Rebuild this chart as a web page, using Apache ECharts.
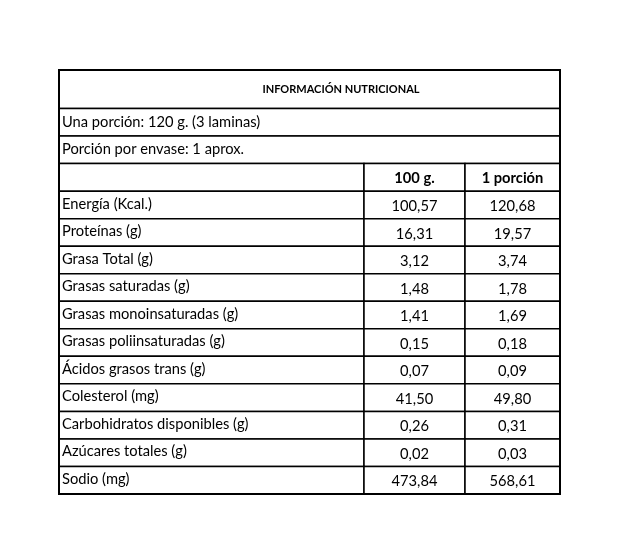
<!DOCTYPE html>
<html>
<head>
<meta charset="utf-8">
<script src="https://cdn.jsdelivr.net/npm/echarts@6/dist/echarts.min.js"></script>
<style>html,body{margin:0;padding:0;background:#fff;}#c{width:633px;height:549px;}</style>
</head>
<body>
<div id="c"></div>
<script>
const title = 'INFORMACIÓN NUTRICIONAL';
const servingInfo = ['Una porción: 120 g. (3 laminas)', 'Porción por envase: 1 aprox.'];
const columnHeaders = ['', '100 g.', '1 porción'];
const nutrients = ['Energía (Kcal.)', 'Proteínas (g)', 'Grasa Total (g)', 'Grasas saturadas (g)',
  'Grasas monoinsaturadas (g)', 'Grasas poliinsaturadas (g)', 'Ácidos grasos trans (g)',
  'Colesterol (mg)', 'Carbohidratos disponibles (g)', 'Azúcares totales (g)', 'Sodio (mg)'];
const per100g = [100.57, 16.31, 3.12, 1.48, 1.41, 0.15, 0.07, 41.50, 0.26, 0.02, 473.84];
const perPortion = [120.68, 19.57, 3.74, 1.78, 1.69, 0.18, 0.09, 49.80, 0.31, 0.03, 568.61];

// ---- layout (axis units) ----
const colEdges = [0, 305, 406, 501];
const titleRowH = 1.4;
const fmt = v => v.toFixed(2).replace('.', ',');
const FONT = 'Lato, "Open Sans", sans-serif';
const fs = 14.7;

const cells = [];
let y = 0;
function addRow(h, items) {
  items.forEach(it => cells.push(Object.assign({ y0: y, y1: y + h }, it)));
  y += h;
}
addRow(titleRowH, [{ x0: colEdges[0], x1: colEdges[3], text: title, bold: true, size: 11, align: 'center', tx: 282 }]);
servingInfo.forEach(s => addRow(1, [{ x0: colEdges[0], x1: colEdges[3], text: s, align: 'left', tx: 3, dy: -0.5 }]));
addRow(1, columnHeaders.map((h, i) => ({ x0: colEdges[i], x1: colEdges[i + 1], text: h, bold: true, align: 'center', dy: 0.5 })));
nutrients.forEach((n, i) => addRow(1, [
  { x0: colEdges[0], x1: colEdges[1], text: n, align: 'left', tx: 3, dy: -1 },
  { x0: colEdges[1], x1: colEdges[2], text: fmt(per100g[i]), align: 'center', dy: 1.5 },
  { x0: colEdges[2], x1: colEdges[3], text: fmt(perPortion[i]), align: 'center', dy: 1.5 }
]));
const totalH = y;

const data = cells.map(c => [c.x0, c.x1, c.y0, c.y1]);
data.push([colEdges[0], colEdges[3], 0, totalH]);

const chart = echarts.init(document.getElementById('c'), null, { renderer: 'canvas' });
chart.setOption({
  animation: false,
  backgroundColor: '#ffffff',
  grid: { left: 59, right: 73, top: 70, bottom: 55 },
  xAxis: { type: 'value', min: 0, max: colEdges[3], show: false },
  yAxis: { type: 'value', min: 0, max: totalH, inverse: true, show: false },
  series: [{
    type: 'custom',
    clip: false,
    data: data,
    renderItem: function (params, api) {
      const p0 = api.coord([api.value(0), api.value(2)]);
      const p1 = api.coord([api.value(1), api.value(3)]);
      const c = cells[params.dataIndex];
      if (!c) {
        return { type: 'rect', shape: { x: p0[0], y: p0[1], width: p1[0] - p0[0], height: p1[1] - p0[1] },
          style: { fill: 'none', stroke: '#000', lineWidth: 2 } };
      }
      const children = [{
        type: 'rect',
        shape: { x: p0[0], y: p0[1], width: p1[0] - p0[0], height: p1[1] - p0[1] },
        style: { fill: '#fff', stroke: '#000', lineWidth: 1.5 }
      }];
      if (c.text) {
        let tx;
        if (c.tx !== undefined) tx = api.coord([c.tx, 0])[0];
        else tx = c.align === 'center' ? (p0[0] + p1[0]) / 2 : p0[0] + 3;
        children.push({
          type: 'text',
          style: {
            x: tx, y: (p0[1] + p1[1]) / 2 + (c.dy || 0),
            text: c.text,
            font: (c.bold ? 'bold ' : '') + (c.size || fs) + 'px ' + FONT,
            fill: '#000',
            textAlign: c.align, textVerticalAlign: 'middle', verticalAlign: 'middle'
          }
        });
      }
      return { type: 'group', children: children };
    }
  }]
});
</script>
</body>
</html>
